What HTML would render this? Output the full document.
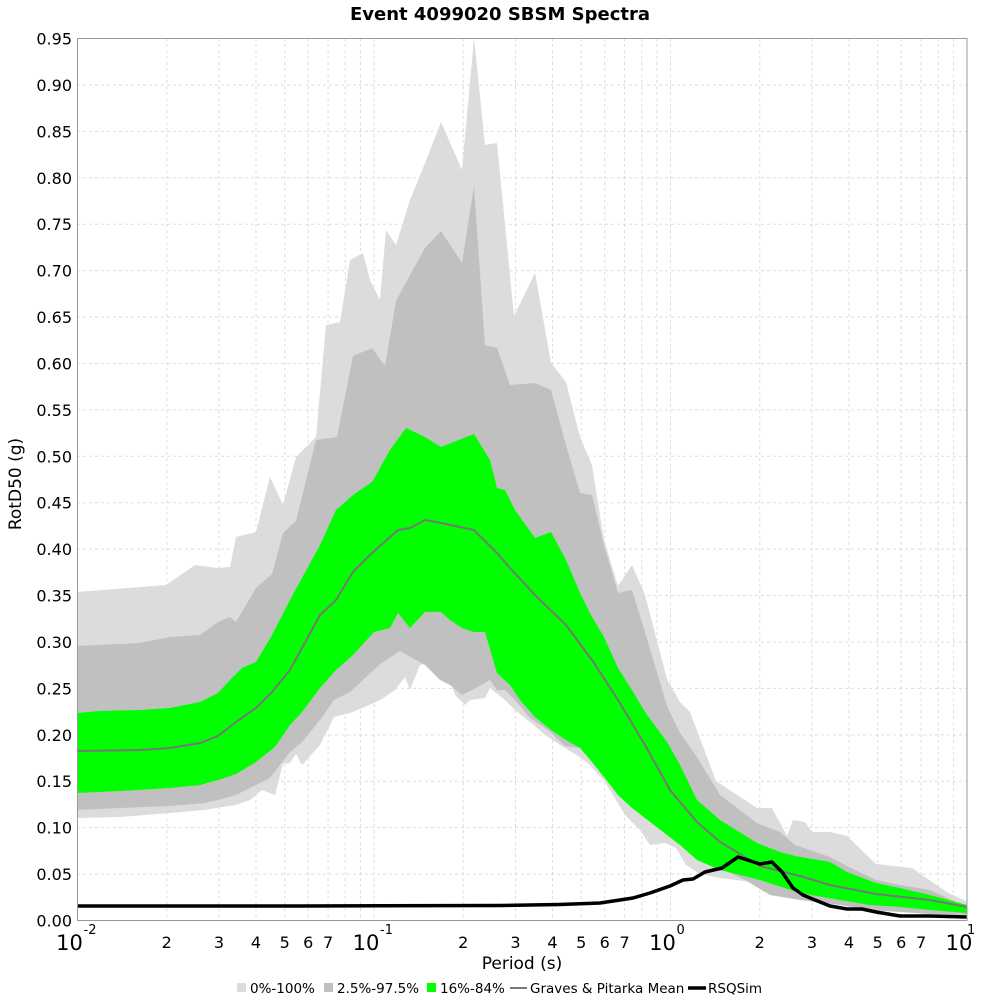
<!DOCTYPE html>
<html><head><meta charset="utf-8"><style>
html,body{margin:0;padding:0;background:#fff;width:1000px;height:1000px;overflow:hidden}
svg{font-family:"DejaVu Sans","Liberation Sans",sans-serif}
</style></head><body>
<svg id="s" width="1000" height="1000" viewBox="0 0 1000 1000" xmlns="http://www.w3.org/2000/svg">
<rect x="0" y="0" width="1000" height="1000" fill="#fff"/>
<g id="grid"></g>
<polygon fill="#dcdcdc" points="77,592 166,585 195,565 218,568 230,567 236,537 256,532 270,477 283,505 296,457 316,437 326,325 340,322 350,260 363,253 370,280 380,300 386,230 396,245 410,200 425,163 441,122 462,170 474,38 485,145 497,143 514,316 535,273 551,363 566,382 580,437 592,465 604,540 618,586 632,565 645,595 667,679 680,702 690,712 716,781 757,808 772,808 787,836 793,820 805,822 812,832 830,832 847,836 876,864 912,868 932,882 947,892 967,902 967,913 930,912 900,910 870,906 840,900 800,892 760,883 720,878 700,874 686,865 676,848 665,843 650,845 640,830 625,815 605,782 590,765 580,757 565,748 545,735 530,722 515,710 505,700 490,688 485,698 470,700 465,705 455,695 445,665 430,663 420,665 410,690 405,677 395,690 380,700 365,707 350,713 334,717 320,745 302,765 296,754 290,763 283,764 275,795 262,790 250,800 236,805 222,807 205,810 170,813 120,817 77,818"/>
<polygon fill="#c0c0c0" points="77,646 140,643 170,637 200,635 218,622 230,617 236,622 256,588 272,574 283,533 296,521 316,440 337,437 353,356 372,348 385,366 396,301 410,275 425,248 441,231 462,263 474,186 485,345 497,348 510,385 535,383 551,390 566,445 580,493 592,495 604,545 618,593 632,590 645,632 667,706 680,733 697,757 720,795 757,823 780,832 795,845 830,857 847,866 876,880 900,885 930,890 967,907 967,915 930,914 900,912 870,910 840,905 800,900 770,895 745,880 720,868 700,857 680,838 670,830 655,812 640,798 625,782 598,760 580,748 565,746 548,730 530,718 515,700 505,690 497,690 490,680 478,687 462,695 450,685 440,680 425,665 400,651 380,664 365,678 350,692 334,700 320,720 302,742 290,752 270,778 256,785 236,795 222,799 205,803 170,806 120,808 77,810"/>
<polygon fill="#00ff00" points="77,713 100,711 140,710 170,708 200,702 218,693 230,680 242,668 256,662 272,635 290,600 302,578 320,545 336,510 353,495 372,482 390,450 406,428 425,437 441,447 474,434 490,460 497,488 505,490 515,510 535,538 551,532 566,560 580,593 592,617 604,637 618,668 632,690 645,712 667,742 680,765 697,800 720,820 757,843 780,852 795,856 830,862 847,872 876,883 900,888 930,895 967,905 967,913 930,910 900,907 870,905 840,900 800,893 760,880 720,870 697,860 680,845 667,835 645,818 632,808 618,795 604,777 592,762 580,748 566,740 551,730 535,717 520,700 510,685 497,673 485,632 474,632 462,628 450,620 441,612 425,612 410,628 398,613 390,628 374,632 353,655 336,670 320,688 302,712 290,725 275,747 256,762 236,774 218,780 200,785 170,788 120,791 77,793"/>
<polyline fill="none" stroke="#777" stroke-width="2" points="77,751 140,750 170,748 200,743 218,736 236,722 256,708 272,692 290,670 302,648 320,615 336,600 353,572 372,553 398,530 410,528 425,520 441,523 474,530 497,553 510,568 535,595 566,625 592,660 618,700 645,745 670,790 697,822 720,842 760,866 800,876 830,885 876,894 930,900 967,907"/>
<polyline fill="none" stroke="#000" stroke-width="3.5" stroke-linejoin="round" points="77,906 300,906 500,905.5 560,904.5 600,903 633,898 650,893 670,886 683,880 693,879 705,872 722,868 738,857 760,864 772,862 782,872 793,888 803,895 815,900 830,906 847,909 862,909 876,912 900,916 930,916 967,917"/>
<rect x="77.5" y="38.5" width="889.5" height="882" fill="none" stroke="#999" stroke-width="1"/>
<g id="labels" font-size="16" fill="#000"></g>
<text x="500" y="20" text-anchor="middle" font-size="18" font-weight="bold">Event 4099020 SBSM Spectra</text>
<text x="21" y="484" text-anchor="middle" font-size="17" transform="rotate(-90 21 484)">RotD50 (g)</text>
<text x="522" y="969" text-anchor="middle" font-size="17">Period (s)</text>
<g font-size="13.5">
<rect x="237" y="983" width="9" height="9" fill="#dcdcdc"/><text x="250" y="993">0%-100%</text>
<rect x="324" y="983" width="9" height="9" fill="#c0c0c0"/><text x="337" y="993">2.5%-97.5%</text>
<rect x="427" y="983" width="9" height="9" fill="#00ff00"/><text x="440" y="993">16%-84%</text>
<line x1="510" y1="988" x2="527" y2="988" stroke="#777" stroke-width="2"/><text x="530" y="993">Graves &amp; Pitarka Mean</text>
<line x1="688" y1="988" x2="706" y2="988" stroke="#000" stroke-width="3.5"/><text x="708" y="993">RSQSim</text>
</g>
</svg>
<script>
var ns="http://www.w3.org/2000/svg",g=document.getElementById("grid"),L=document.getElementById("labels");
function el(p,t,a,txt){var e=document.createElementNS(ns,t);for(var k in a)e.setAttribute(k,a[k]);if(txt!=null)e.textContent=txt;p.appendChild(e);return e;}
for(var i=0;i<=19;i++){var y=920.5-i*46.42;
 if(i>0)el(g,"line",{x1:77,x2:967,y1:y,y2:y,stroke:"#ddd","stroke-dasharray":"3,3"});
 el(L,"text",{x:72,y:y+6,"text-anchor":"end"},(i*0.05).toFixed(2));}
for(var d=0;d<3;d++)for(var m=1;m<10;m++){var x=77.5+296.5*(d+Math.log10(m));
 if(!(d==0&&m==1))el(g,"line",{x1:x,x2:x,y1:38,y2:920,stroke:"#ddd","stroke-dasharray":"3,3"});
 if(m==1){el(L,"text",{x:x-8,y:950,"text-anchor":"middle","font-size":"21"},"10");el(L,"text",{x:x+6,y:934,"font-size":"13"},d==0?"-2":d==1?"-1":"0");}
 else if(m<8)el(L,"text",{x:x,y:948,"text-anchor":"middle"},String(m));}
el(L,"text",{x:959,y:950,"text-anchor":"middle","font-size":"21"},"10");el(L,"text",{x:967,y:934,"font-size":"13"},"1");
</script>
</body></html>
